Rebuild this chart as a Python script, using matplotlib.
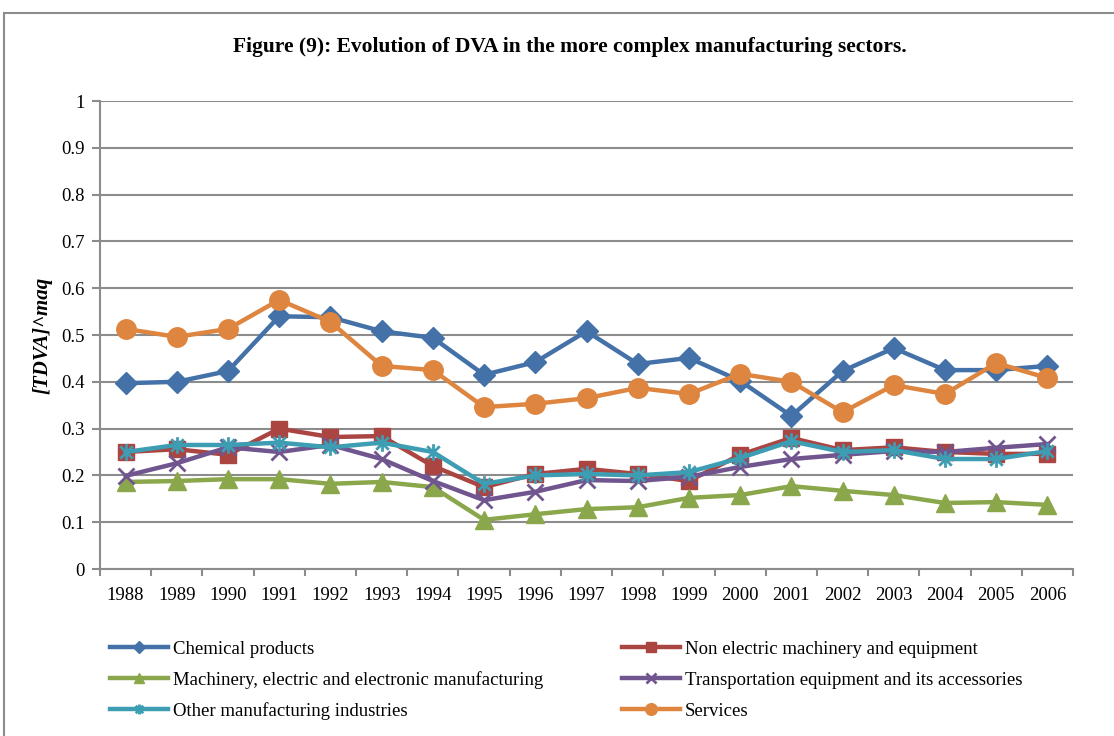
import numpy as np
import matplotlib
matplotlib.use("Agg")
import matplotlib.pyplot as plt
from matplotlib.path import Path
from matplotlib.patches import Rectangle

years = list(range(1988, 2007))

chemical = [0.397, 0.400, 0.423, 0.540, 0.538, 0.508, 0.494, 0.415, 0.442, 0.508,
            0.438, 0.451, 0.402, 0.327, 0.423, 0.472, 0.425, 0.425, 0.434]
non_electric = [0.250, 0.256, 0.244, 0.300, 0.282, 0.284, 0.220, 0.175, 0.203, 0.214,
                0.203, 0.188, 0.244, 0.280, 0.254, 0.260, 0.250, 0.246, 0.246]
machinery = [0.186, 0.188, 0.192, 0.192, 0.182, 0.186, 0.175, 0.105, 0.117, 0.128,
             0.132, 0.152, 0.158, 0.177, 0.167, 0.158, 0.141, 0.143, 0.137]
transport = [0.199, 0.226, 0.260, 0.250, 0.265, 0.235, 0.188, 0.147, 0.165, 0.190,
             0.188, 0.197, 0.218, 0.235, 0.244, 0.252, 0.250, 0.259, 0.267]
other_manuf = [0.250, 0.265, 0.265, 0.270, 0.260, 0.270, 0.250, 0.182, 0.200, 0.203,
               0.200, 0.207, 0.237, 0.273, 0.250, 0.254, 0.235, 0.235, 0.252]
services = [0.513, 0.496, 0.513, 0.575, 0.528, 0.434, 0.425, 0.346, 0.353, 0.365,
            0.387, 0.374, 0.417, 0.400, 0.335, 0.393, 0.374, 0.440, 0.408]

labels = ["Chemical products",
          "Non electric machinery and equipment",
          "Machinery, electric and electronic manufacturing",
          "Transportation equipment and its accessories",
          "Other manufacturing industries",
          "Services"]

# excel-style asterisk: an x with a vertical bar through it
asterisk = Path([(0, -1), (0, 1), (-0.75, -0.75), (0.75, 0.75), (-0.75, 0.75), (0.75, -0.75)],
                [Path.MOVETO, Path.LINETO, Path.MOVETO, Path.LINETO, Path.MOVETO, Path.LINETO])

styles = [
    dict(color="#4472A8", marker="D", ms=11),
    dict(color="#AA4542", marker="s", ms=12),
    dict(color="#8AA74B", marker="^", ms=13),
    dict(color="#70558F", marker="x", ms=11, mew=2),
    dict(color="#3D9DB3", marker=asterisk, ms=12, mew=2),
    dict(color="#DE8540", marker="o", ms=14),
]
series = [chemical, non_electric, machinery, transport, other_manuf, services]

plt.rcParams["font.family"] = ["Liberation Serif", "DejaVu Serif"]

W, H = 1114, 736
fig = plt.figure(figsize=(W / 100, H / 100), dpi=100)
ax = fig.add_axes([100 / W, 1 - 569 / H, 973 / W, 468 / H])

# outer chart frame
fig.patches.append(Rectangle((4 / W, -0.05), 1.2, 1 - 13 / H + 0.05, transform=fig.transFigure,
                             fill=False, edgecolor="#8C8C8C", lw=1.5))

lines = []
for vals, st, lab in zip(series, styles, labels):
    ln, = ax.plot(years, vals, lw=3.2, label=lab, zorder=3, **st)
    lines.append(ln)

ax.set_xlim(1987.5, 2006.5)
ax.set_ylim(0, 1)
ax.set_yticks(np.arange(0, 1.01, 0.1))
ax.set_yticklabels(["0", "0.1", "0.2", "0.3", "0.4", "0.5", "0.6", "0.7", "0.8", "0.9", "1"])
ax.set_xticks(years)
ax.set_xticks(np.arange(1987.5, 2007, 1), minor=True)
ax.grid(axis="y", color="#8C8C8C", lw=1.5, zorder=0)
for s in ["top", "right"]:
    ax.spines[s].set_visible(False)
for s in ["left", "bottom"]:
    ax.spines[s].set_color("#8C8C8C")
    ax.spines[s].set_linewidth(1.5)
ax.tick_params(axis="y", length=6, width=1.5, color="#8C8C8C", pad=5, labelsize=13.5)
ax.tick_params(axis="x", which="major", length=0, pad=13, labelsize=13.5)
ax.tick_params(axis="x", which="minor", length=5, width=1.5, color="#8C8C8C")

fig.text(0.512, 1 - 47 / H, "Figure (9): Evolution of DVA in the more complex manufacturing sectors.",
         ha="center", va="center", fontsize=15.5, fontweight="bold")
fig.text(42 / W, 1 - 335 / H, "[TDVA]^maq", rotation=90, ha="center", va="center",
         fontsize=15, fontweight="bold", style="italic")

# legend: two columns, three rows, one entry each so rows stay level
leg_kw = dict(frameon=False, fontsize=13.5, handlelength=3.1, handletextpad=0.25,
              borderpad=0, borderaxespad=0, markerscale=0.6, loc="center left")
col_x = [110, 622]
row_y = [649, 680, 711]
for i, (ln, lab) in enumerate(zip(lines, labels)):
    leg = fig.legend([ln], [lab], bbox_to_anchor=(col_x[i % 2] / W, 1 - row_y[i // 2] / H), **leg_kw)

fig.savefig("out.png", dpi=100)
